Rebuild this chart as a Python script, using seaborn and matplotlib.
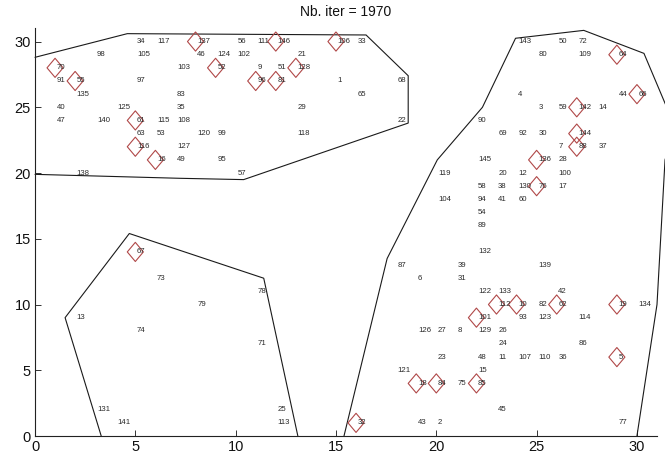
import numpy as np
import pandas as pd
import matplotlib
matplotlib.use("Agg")
import matplotlib.pyplot as plt
from matplotlib.path import Path
import seaborn as sns

# City indices and their grid positions
city_id = [1, 2, 3, 4, 5, 6, 7, 8, 9, 10, 11, 12, 13, 14, 15, 16, 17, 18, 19, 20,
           21, 22, 23, 24, 25, 26, 27, 28, 29, 30, 31, 32, 33, 34, 35, 36, 37, 38, 39, 40,
           41, 42, 43, 44, 45, 46, 47, 48, 49, 50, 51, 52, 53, 54, 55, 56, 57, 58, 59, 60,
           61, 62, 63, 64, 65, 66, 67, 68, 69, 70, 71, 72, 73, 74, 75, 76, 77, 78, 79, 80,
           81, 82, 83, 84, 85, 86, 87, 88, 89, 90, 91, 92, 93, 94, 95, 96, 97, 98, 99, 100,
           101, 102, 103, 104, 105, 106, 107, 108, 109, 110, 111, 112, 113, 114, 115, 116, 117, 118, 119, 120,
           121, 122, 123, 124, 125, 126, 127, 128, 129, 130, 131, 132, 133, 134, 135, 136, 137, 138, 139, 140,
           141, 142, 143, 144, 145, 146]
city_x = [15, 20, 25, 24, 29, 19, 26, 21, 11, 24, 23, 24, 2, 28, 22, 6, 26, 19, 29, 23,
          13, 18, 20, 23, 12, 23, 20, 26, 13, 25, 21, 16, 16, 5, 7, 26, 28, 23, 21, 1,
          23, 26, 19, 29, 23, 8, 1, 22, 7, 26, 12, 9, 6, 22, 2, 10, 10, 22, 26, 24,
          5, 26, 5, 29, 16, 30, 5, 18, 23, 1, 11, 27, 6, 5, 21, 25, 29, 11, 8, 25,
          12, 25, 7, 20, 22, 27, 18, 27, 22, 22, 1, 24, 24, 22, 9, 11, 5, 3, 9, 26,
          22, 10, 7, 20, 5, 15, 24, 7, 27, 25, 11, 23, 12, 27, 6, 5, 6, 13, 20, 8,
          18, 22, 25, 9, 4, 19, 7, 13, 22, 24, 3, 22, 23, 30, 2, 25, 8, 2, 25, 3,
          4, 27, 24, 27, 22, 12]
city_y = [27, 1, 25, 26, 6, 12, 22, 8, 28, 10, 6, 20, 9, 25, 5, 21, 19, 4, 10, 20,
          29, 24, 6, 7, 2, 8, 8, 21, 25, 23, 12, 1, 30, 30, 25, 6, 22, 19, 13, 25,
          18, 11, 1, 26, 2, 29, 24, 6, 21, 30, 28, 28, 23, 17, 27, 30, 20, 19, 25, 18,
          24, 10, 23, 29, 26, 26, 14, 27, 23, 28, 7, 30, 12, 8, 4, 19, 1, 11, 10, 29,
          27, 10, 26, 4, 4, 7, 13, 22, 16, 24, 27, 23, 9, 18, 21, 27, 27, 29, 23, 20,
          9, 29, 28, 18, 29, 30, 6, 24, 29, 6, 30, 10, 1, 9, 24, 22, 30, 23, 20, 23,
          5, 11, 9, 29, 25, 8, 22, 28, 8, 19, 2, 14, 11, 10, 26, 21, 30, 20, 13, 24,
          1, 25, 30, 23, 21, 30]

# Cities currently selected as neuron anchors (drawn with diamonds)
selected = [5, 10, 16, 18, 19, 32, 52, 55, 61, 62, 64, 66, 67, 70, 76, 81, 84, 85,
            88, 96, 101, 106, 112, 116, 128, 136, 137, 142, 144, 146]

# Cluster boundaries
zone_a_x = [0.0, 4.6, 10.5, 16.5, 18.6, 18.6, 10.4, 7.2, 0.0]
zone_a_y = [28.8, 30.6, 30.55, 30.5, 27.4, 23.8, 19.5, 19.6, 19.9]
zone_b_x = [3.3, 1.5, 4.7, 11.4, 13.1]
zone_b_y = [0.0, 9.0, 15.4, 12.0, 0.0]
zone_c_x = [15.4, 17.55, 20.05, 22.3, 23.95, 27.35, 30.35, 31.9, 31.4, 31.0, 30.0]
zone_c_y = [0.0, 13.5, 21.0, 25.0, 30.25, 30.85, 29.1, 23.5, 21.0, 10.0, 0.0]

iterations = 1970

cities = pd.DataFrame({"id": city_id, "x": city_x, "y": city_y})
cities["selected"] = cities["id"].isin(selected)

sns.set_theme(style="white")
plt.rcParams["font.family"] = ["Liberation Sans", "DejaVu Sans"]

fig = plt.figure(figsize=(6.65, 4.54), dpi=100)
ax = fig.add_axes([35 / 665, 18 / 454, 622 / 665, 407.6 / 454])

for zx, zy in [(zone_a_x, zone_a_y), (zone_b_x, zone_b_y), (zone_c_x, zone_c_y)]:
    ax.plot(zx, zy, color="#1a1a1a", lw=0.8, solid_joinstyle="miter", clip_on=False)

diamond = Path([(-0.84, 0.0), (0.0, 1.0), (0.84, 0.0), (0.0, -1.0), (-0.84, 0.0)],
               [Path.MOVETO, Path.LINETO, Path.LINETO, Path.LINETO, Path.CLOSEPOLY])
sns.scatterplot(data=cities[cities["selected"]], x="x", y="y", marker=diamond,
                s=190, facecolor="none", edgecolor="#b04848", linewidth=0.8,
                ax=ax, legend=False, zorder=3)

for cid, cx, cy in zip(city_id, city_x, city_y):
    ax.annotate(str(cid), (cx, cy), xytext=(1.2, 0), textcoords="offset points",
                ha="left", va="center", fontsize=5.6, color="#2a2a2a", zorder=4)

ax.set_xlim(0, 31)
ax.set_ylim(0, 31)
ax.set_xticks(range(0, 31, 5))
ax.set_yticks(range(0, 31, 5))
ax.set_xlabel("")
ax.set_ylabel("")
for side in ["top", "right"]:
    ax.spines[side].set_visible(False)
for side in ["left", "bottom"]:
    ax.spines[side].set_color("#222222")
    ax.spines[side].set_linewidth(0.8)
ax.tick_params(direction="in", length=4, width=0.7, color="#333333",
               labelsize=10.5, labelcolor="#111111", pad=3,
               bottom=True, left=True)
ax.set_title(f"Nb. iter = {iterations}", fontsize=10, color="#111111", pad=9)

fig.savefig("out.png", dpi=100)
